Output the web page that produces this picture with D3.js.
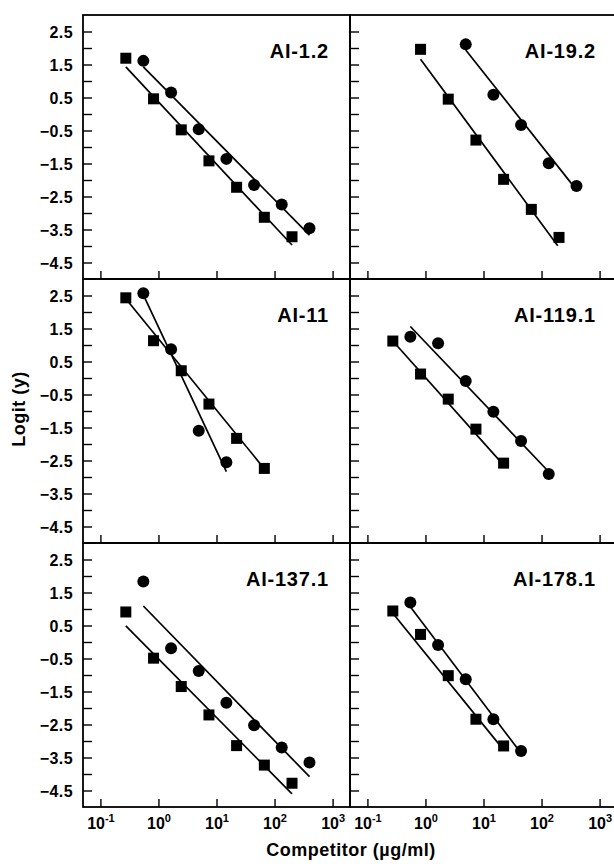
<!DOCTYPE html>
<html><head><meta charset="utf-8">
<script src="https://cdn.jsdelivr.net/npm/d3@7"></script>
<style>
body{margin:0;background:#fff}
svg text{font-family:"Liberation Sans",Arial,Helvetica,sans-serif;font-weight:bold;fill:#000}
</style>
</head><body>
<svg id="chart" width="614" height="864"></svg>
<script>
// ---- data ----
const panelLabels = ["AI-1.2", "AI-19.2", "AI-11", "AI-119.1", "AI-137.1", "AI-178.1"];

const squareX = [
  [0.274, 0.823, 2.47, 7.41, 22.2, 66.7, 200],
  [0.823, 2.47, 7.41, 22.2, 66.7, 200],
  [0.274, 0.823, 2.47, 7.41, 22.2, 66.7],
  [0.274, 0.823, 2.47, 7.41, 22.2],
  [0.274, 0.823, 2.47, 7.41, 22.2, 66.7, 200],
  [0.274, 0.823, 2.47, 7.41, 22.2]
];
const squareY = [
  [1.69, 0.46, -0.48, -1.42, -2.22, -3.13, -3.72],
  [1.96, 0.45, -0.79, -1.98, -2.89, -3.74],
  [2.43, 1.13, 0.22, -0.79, -1.83, -2.74],
  [1.12, 0.12, -0.64, -1.55, -2.58],
  [0.91, -0.49, -1.35, -2.21, -3.14, -3.73, -4.28],
  [0.94, 0.23, -1.02, -2.34, -3.15]
];
const circleX = [
  [0.549, 1.65, 4.94, 14.8, 44.4, 133, 400],
  [4.94, 14.8, 44.4, 133, 400],
  [0.549, 1.65, 4.94, 14.8],
  [0.549, 1.65, 4.94, 14.8, 44.4, 133],
  [0.549, 1.65, 4.94, 14.8, 44.4, 133, 400],
  [0.549, 1.65, 4.94, 14.8, 44.4]
];
const circleY = [
  [1.61, 0.65, -0.46, -1.36, -2.15, -2.74, -3.46],
  [2.11, 0.58, -0.33, -1.49, -2.18],
  [2.57, 0.87, -1.60, -2.55],
  [1.25, 1.05, -0.09, -1.02, -1.91, -2.91],
  [1.83, -0.19, -0.88, -1.84, -2.52, -3.20, -3.65],
  [1.20, -0.09, -1.13, -2.34, -3.30]
];
// fitted regression lines: [[xStart, yStart], [xEnd, yEnd]]
const squareFit = [
  [[0.274, 1.43], [200, -3.97]],
  [[0.823, 1.66], [190, -3.99]],
  [[0.274, 2.40], [66.7, -2.75]],
  [[0.274, 1.12], [22.2, -2.64]],
  [[0.274, 0.49], [200, -4.60]],
  [[0.274, 0.87], [22.2, -3.27]]
];
const circleFit = [
  [[0.549, 1.43], [400, -3.67]],
  [[4.94, 1.94], [400, -2.30]],
  [[0.549, 2.52], [14.8, -2.84]],
  [[0.549, 1.56], [133, -2.84]],
  [[0.549, 1.09], [400, -4.08]],
  [[0.549, 1.07], [44.4, -3.37]]
];
const yTickLabels = [2.5, 1.5, 0.5, -0.5, -1.5, -2.5, -3.5, -4.5];
const yTickMarks = [2.5, 2, 1.5, 1, 0.5, 0, -0.5, -1, -1.5, -2, -2.5, -3, -3.5, -4, -4.5];
const xTickValues = [0.1, 1, 10, 100, 1000];
const xTickExponents = ["-1", "0", "1", "2", "3"];

// ---- layout ----
const W = 267, H = 264;
const colX = [83, 350];
const rowY = [15, 279, 543];

const svg = d3.select("#chart");
const x = d3.scaleLog().domain([Math.pow(10, -1.3), Math.pow(10, 3.3)]).range([0, W]);
const y = d3.scaleLinear().domain([-5, 3]).range([H, 0]);
const line = d3.line().x(d => x(d[0])).y(d => y(d[1]));

panelLabels.forEach((label, i) => {
  const col = i % 2, row = Math.floor(i / 2);
  const g = svg.append("g").attr("transform", `translate(${colX[col]},${rowY[row]})`);

  // y axis ticks (inward)
  const ya = g.append("g").call(
    d3.axisLeft(y).tickValues(yTickMarks).tickSize(-9).tickPadding(10)
      .tickFormat(v => (col === 0 && yTickLabels.includes(v)) ? d3.format(".1f")(v) : "")
  );
  ya.select(".domain").remove();
  ya.selectAll("line").attr("stroke", "#000").attr("stroke-width", 1.4);
  ya.selectAll("text").attr("font-size", 16).attr("letter-spacing", 0.4)
    .attr("font-family", null).attr("dy", "0.35em");

  // x axis ticks (inward, bottom)
  const xa = g.append("g").attr("transform", `translate(0,${H})`).call(
    d3.axisBottom(x).tickValues(xTickValues).tickSize(-8).tickPadding(9).tickFormat(() => "")
  );
  xa.select(".domain").remove();
  xa.selectAll("line").attr("stroke", "#000").attr("stroke-width", 1.4);
  if (row === 2) {
    xa.selectAll(".tick text").each(function (d, k) {
      const t = d3.select(this).attr("font-size", 16).attr("font-family", null)
        .attr("y", 22).attr("dy", null).attr("text-anchor", "middle");
      t.text("");
      t.append("tspan").text("10");
      t.append("tspan").attr("dy", -7).attr("font-size", 11).text(xTickExponents[k]);
    });
  }

  // frame
  g.append("rect").attr("width", W).attr("height", H)
    .attr("fill", "none").attr("stroke", "#000").attr("stroke-width", 1.8);

  // fit lines
  g.append("path").datum(squareFit[i]).attr("d", line)
    .attr("fill", "none").attr("stroke", "#000").attr("stroke-width", 1.7);
  g.append("path").datum(circleFit[i]).attr("d", line)
    .attr("fill", "none").attr("stroke", "#000").attr("stroke-width", 1.7);

  // squares
  const sq = squareX[i].map((v, k) => [v, squareY[i][k]]);
  g.selectAll(".sq").data(sq).enter().append("rect").attr("class", "sq")
    .attr("x", d => x(d[0]) - 5.5).attr("y", d => y(d[1]) - 5.5)
    .attr("width", 11).attr("height", 11).attr("fill", "#000");

  // circles
  const ci = circleX[i].map((v, k) => [v, circleY[i][k]]);
  g.selectAll(".ci").data(ci).enter().append("circle").attr("class", "ci")
    .attr("cx", d => x(d[0])).attr("cy", d => y(d[1])).attr("r", 6).attr("fill", "#000");

  // panel label
  g.append("text").attr("x", 246).attr("y", 43).attr("text-anchor", "end")
    .attr("font-size", 20).attr("letter-spacing", 0.8).text(label);
});

// axis titles
svg.append("text").attr("x", 351).attr("y", 856).attr("text-anchor", "middle")
  .attr("font-size", 18).attr("letter-spacing", 0.5).text("Competitor (µg/ml)");
svg.append("text").attr("transform", "translate(25,409) rotate(-90)").attr("text-anchor", "middle")
  .attr("font-size", 18).attr("letter-spacing", 0.5).text("Logit (y)");
</script>
</body></html>
